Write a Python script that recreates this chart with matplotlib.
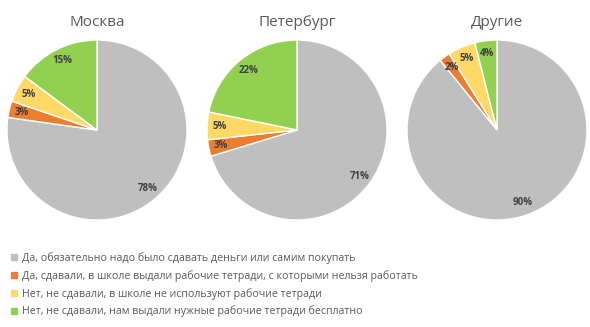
import matplotlib
matplotlib.use('Agg')
import matplotlib.pyplot as plt
from matplotlib.lines import Line2D

plt.rcParams['font.family'] = ['Open Sans', 'Noto Sans', 'DejaVu Sans']

# Survey answers, shares in percent per region
regions = ['Москва', 'Петербург', 'Другие']
answers = [
    'Да, обязательно надо было сдавать деньги или самим покупать',
    'Да, сдавали, в школе выдали рабочие тетради, с которыми нельзя работать',
    'Нет, не сдавали, в школе не используют рабочие тетради',
    'Нет, не сдавали, нам выдали нужные рабочие тетради бесплатно',
]
moscow = [78, 3, 5, 15]
petersburg = [71, 3, 5, 22]
others = [90, 2, 5, 4]
colors = ['#BFBFBF', '#ED7D31', '#FFD966', '#92D050']

W, H = 590, 327
fig = plt.figure(figsize=(W / 100, H / 100), dpi=100)
fig.patch.set_facecolor('white')

centers_x = [97, 297, 497]
center_y = 130
r = 90

for name, vals, cx in zip(regions, [moscow, petersburg, others], centers_x):
    ax = fig.add_axes([(cx - r) / W, 1 - (center_y + r) / H, 2 * r / W, 2 * r / H])
    wedges, texts = ax.pie(vals, colors=colors, startangle=90, counterclock=False,
                           labels=[f'{v}%' for v in vals], labeldistance=0.86,
                           wedgeprops=dict(edgecolor='white', linewidth=1.0),
                           textprops=dict(fontsize=7, fontweight='bold', color='#404040',
                                          ha='center', va='center'))
    ax.set_xlim(-1, 1)
    ax.set_ylim(-1, 1)
    ax.set_aspect('equal')
    ax.axis('off')
    fig.text(cx / W, 1 - 22 / H, name, ha='center', va='center',
             fontsize=11, color='#595959')

handles = [Line2D([], [], marker='s', linestyle='none', markersize=4,
                  markerfacecolor=c, markeredgecolor=c) for c in colors]
fig.legend(handles, answers, loc='upper left', bbox_to_anchor=(8 / W, 1 - 249 / H),
           frameon=False, fontsize=7.7, labelcolor='#595959', handlelength=0.6,
           handletextpad=0.45, labelspacing=0.56, borderaxespad=0.0,
           borderpad=0.3)

fig.savefig('out.png', dpi=100)
